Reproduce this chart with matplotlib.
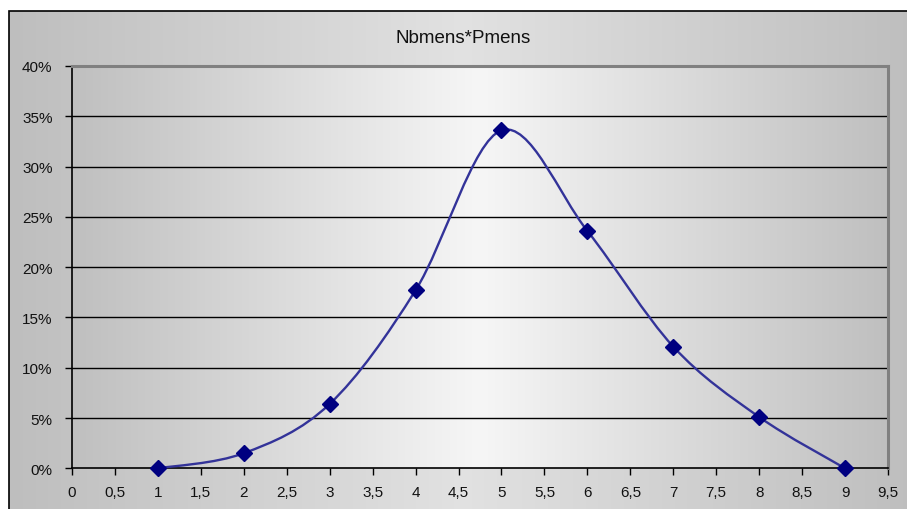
import matplotlib.pyplot as plt
import numpy as np
from matplotlib.path import Path
from matplotlib.patches import PathPatch, Rectangle
from matplotlib.ticker import FixedLocator, FuncFormatter

# data
x_vals = [1, 2, 3, 4, 5, 6, 7, 8, 9]
pct_vals = [0.0, 1.5, 6.4, 17.7, 33.6, 23.6, 12.1, 5.1, 0.0]
x_ticks = [i * 0.5 for i in range(20)]      # 0 .. 9,5
y_ticks = [0, 5, 10, 15, 20, 25, 30, 35, 40]
title = "Nbmens*Pmens"

plt.rcParams['font.family'] = ['Liberation Sans', 'DejaVu Sans']

W, H = 907, 510
fig = plt.figure(figsize=(W / 100, H / 100), dpi=100)
fig.patch.set_facecolor('white')


def hgrad(edge, center, n=400):
    # grey level that rises linearly from the edges to the middle
    t = np.linspace(0, 1, n)
    g = edge + (center - edge) * (1 - np.abs(2 * t - 1))
    return np.stack([g, g, g], axis=-1)[None, :, :]


# chart area background, in pixel units
bg = fig.add_axes([0, 0, 1, 1], zorder=0)
bg.set_xlim(0, W)
bg.set_ylim(0, H)
bg.axis('off')
bg.imshow(hgrad(0.745, 0.885), extent=(9, W + 10, 0, H - 12),
          aspect='auto', interpolation='bilinear')
bg.add_patch(Rectangle((9, -5), W + 20, H - 12 + 5, fill=False,
                       edgecolor='black', lw=1.2))

fig.text(463 / W, 1 - 39 / H, title, ha='center', va='center',
         fontsize=13.5, color='#111111')

# plot area
ax = fig.add_axes([72 / W, 1 - 469.3 / H, (888 - 72) / W, (469.3 - 67) / H],
                  zorder=1)
ax.set_xlim(x_ticks[0], x_ticks[-1])
ax.set_ylim(y_ticks[0], y_ticks[-1])
ax.imshow(hgrad(0.75, 0.965), extent=(x_ticks[0], x_ticks[-1], y_ticks[0], y_ticks[-1]),
          aspect='auto', interpolation='bilinear', zorder=0)

for v in y_ticks[1:-1]:
    ax.axhline(v, color='black', lw=1, zorder=1)

for side in ['top', 'right']:
    ax.spines[side].set_color('#808080')
    ax.spines[side].set_linewidth(2.2)
for side in ['left', 'bottom']:
    ax.spines[side].set_color('black')
    ax.spines[side].set_linewidth(1.2)

ax.xaxis.set_major_locator(FixedLocator(x_ticks))
ax.yaxis.set_major_locator(FixedLocator(y_ticks))
ax.xaxis.set_major_formatter(FuncFormatter(lambda v, p: f"{v:g}".replace('.', ',')))
ax.yaxis.set_major_formatter(FuncFormatter(lambda v, p: f"{v:.0f}%"))
ax.tick_params(axis='both', direction='out', length=5, width=1, color='black',
               labelsize=11, labelcolor='#111111')
ax.tick_params(axis='y', pad=9)
ax.tick_params(axis='x', pad=7)

# smoothed line: cubic Bezier segments through the points
pts = np.column_stack([x_vals, pct_vals])
verts = [pts[0]]
codes = [Path.MOVETO]
n = len(pts)
for i in range(n - 1):
    p0 = pts[max(i - 1, 0)]
    p1 = pts[i]
    p2 = pts[i + 1]
    p3 = pts[min(i + 2, n - 1)]
    c1 = p1 + (p2 - p0) / 6
    c2 = p2 - (p3 - p1) / 6
    verts += [c1, c2, p2]
    codes += [Path.CURVE4] * 3
ax.add_patch(PathPatch(Path(verts, codes), facecolor='none',
                       edgecolor='#333399', lw=1.7, zorder=3, clip_on=False))

ax.plot(x_vals, pct_vals, linestyle='none', marker='D', ms=8,
        color='#000080', zorder=4, clip_on=False)

fig.savefig('out.png', dpi=100)
